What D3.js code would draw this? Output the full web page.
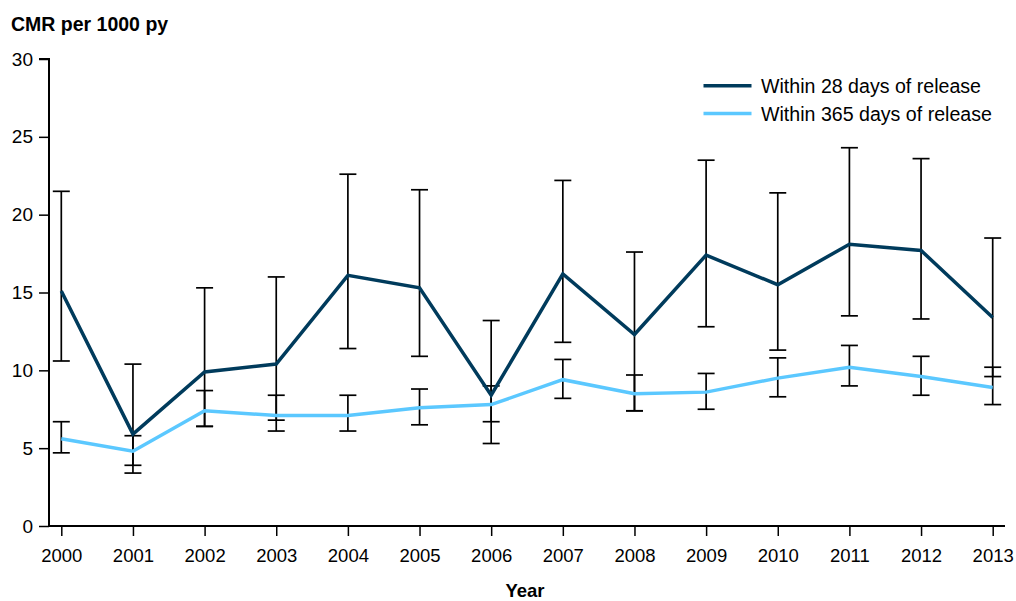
<!DOCTYPE html>
<html>
<head>
<meta charset="utf-8">
<script src="https://cdn.jsdelivr.net/npm/d3@7"></script>
<style>
  html, body { margin: 0; padding: 0; background: #fff; }
  svg { display: block; font-family: "Liberation Sans", Arial, sans-serif; }
</style>
</head>
<body>
<svg id="chart" width="1016" height="601"></svg>
<script>
const years = [2000, 2001, 2002, 2003, 2004, 2005, 2006, 2007, 2008, 2009, 2010, 2011, 2012, 2013];
const within28 = [15.1, 5.9, 9.9, 10.4, 16.1, 15.3, 8.4, 16.2, 12.3, 17.4, 15.5, 18.1, 17.7, 13.4];
const within28Lower = [10.6, 3.4, 6.4, 6.8, 11.4, 10.9, 5.3, 11.8, 7.4, 12.8, 11.3, 13.5, 13.3, 9.6];
const within28Upper = [21.5, 10.4, 15.3, 16.0, 22.6, 21.6, 13.2, 22.2, 17.6, 23.5, 21.4, 24.3, 23.6, 18.5];
const within365 = [5.6, 4.8, 7.4, 7.1, 7.1, 7.6, 7.8, 9.4, 8.5, 8.6, 9.5, 10.2, 9.6, 8.9];
const within365Lower = [4.7, 3.9, 6.4, 6.1, 6.1, 6.5, 6.7, 8.2, 7.4, 7.5, 8.3, 9.0, 8.4, 7.8];
const within365Upper = [6.7, 5.8, 8.7, 8.4, 8.4, 8.8, 9.0, 10.7, 9.7, 9.8, 10.8, 11.6, 10.9, 10.2];
const yTicks = [0, 5, 10, 15, 20, 25, 30];
const seriesNames = ["Within 28 days of release", "Within 365 days of release"];
const yTitle = "CMR per 1000 py";
const xTitle = "Year";

const colors = ["#003b5c", "#5bc8ff"];
const svg = d3.select("#chart");

const axisLeftX = 49, axisRightX = 1005;
const x = d3.scalePoint().domain(years).range([61.3, 992.7]);
const y = d3.scaleLinear().domain([0, 30]).range([526, 59]);

// Y axis
const yAxis = svg.append("g").attr("transform", `translate(${axisLeftX},0)`)
  .call(d3.axisLeft(y).tickValues(yTicks).tickSize(10).tickPadding(6).tickFormat(d3.format("d")));
yAxis.select(".domain").attr("d", `M-10,${y(30)}H0V${y(0)}`).attr("stroke", "#000").attr("stroke-width", 2);
yAxis.selectAll(".tick line").attr("stroke", "#000").attr("stroke-width", 1.5);
yAxis.selectAll(".tick text").attr("font-size", 19).attr("fill", "#000")
  .attr("font-family", "Liberation Sans, Arial, sans-serif");

// X axis
const xAxis = svg.append("g").attr("transform", `translate(0,${y(0)})`)
  .call(d3.axisBottom(x).tickSize(10).tickPadding(13));
xAxis.select(".domain").attr("d", `M${axisLeftX},0H${axisRightX}`).attr("stroke", "#000").attr("stroke-width", 2);
xAxis.selectAll(".tick line").attr("stroke", "#000").attr("stroke-width", 1.5);
xAxis.selectAll(".tick text").attr("font-size", 18.5).attr("fill", "#000")
  .attr("font-family", "Liberation Sans, Arial, sans-serif");

// Titles
svg.append("text").attr("x", 11).attr("y", 30.5).attr("font-size", 19.5).attr("font-weight", "bold")
  .text(yTitle);
svg.append("text").attr("x", (axisLeftX + axisRightX) / 2 - 2).attr("y", 597).attr("text-anchor", "middle")
  .attr("font-size", 18.5).attr("font-weight", "bold").text(xTitle);

// Error bars
const capHalf = 8.5;
function drawErrors(lower, upper) {
  const g = svg.append("g").attr("stroke", "#000").attr("stroke-width", 1.7).attr("fill", "none");
  years.forEach((yr, i) => {
    const cx = x(yr);
    g.append("line").attr("x1", cx).attr("x2", cx).attr("y1", y(lower[i])).attr("y2", y(upper[i]));
    g.append("line").attr("x1", cx - capHalf).attr("x2", cx + capHalf).attr("y1", y(lower[i])).attr("y2", y(lower[i]));
    g.append("line").attr("x1", cx - capHalf).attr("x2", cx + capHalf).attr("y1", y(upper[i])).attr("y2", y(upper[i]));
  });
}
drawErrors(within28Lower, within28Upper);
drawErrors(within365Lower, within365Upper);

// Lines
const line = d3.line().x((d, i) => x(years[i])).y(d => y(d));
svg.append("path").datum(within365).attr("d", line).attr("fill", "none")
  .attr("stroke", colors[1]).attr("stroke-width", 3.5).attr("stroke-linejoin", "miter");
svg.append("path").datum(within28).attr("d", line).attr("fill", "none")
  .attr("stroke", colors[0]).attr("stroke-width", 3.5).attr("stroke-linejoin", "miter");

// Legend
const legend = svg.append("g");
seriesNames.forEach((name, i) => {
  const ly = 85.7 + i * 27.8;
  legend.append("line").attr("x1", 703.5).attr("x2", 751.5).attr("y1", ly).attr("y2", ly)
    .attr("stroke", colors[i]).attr("stroke-width", 3.5);
  legend.append("text").attr("x", 761).attr("y", ly + 7).attr("font-size", 19.6).attr("fill", "#000")
    .text(name);
});
</script>
</body>
</html>
